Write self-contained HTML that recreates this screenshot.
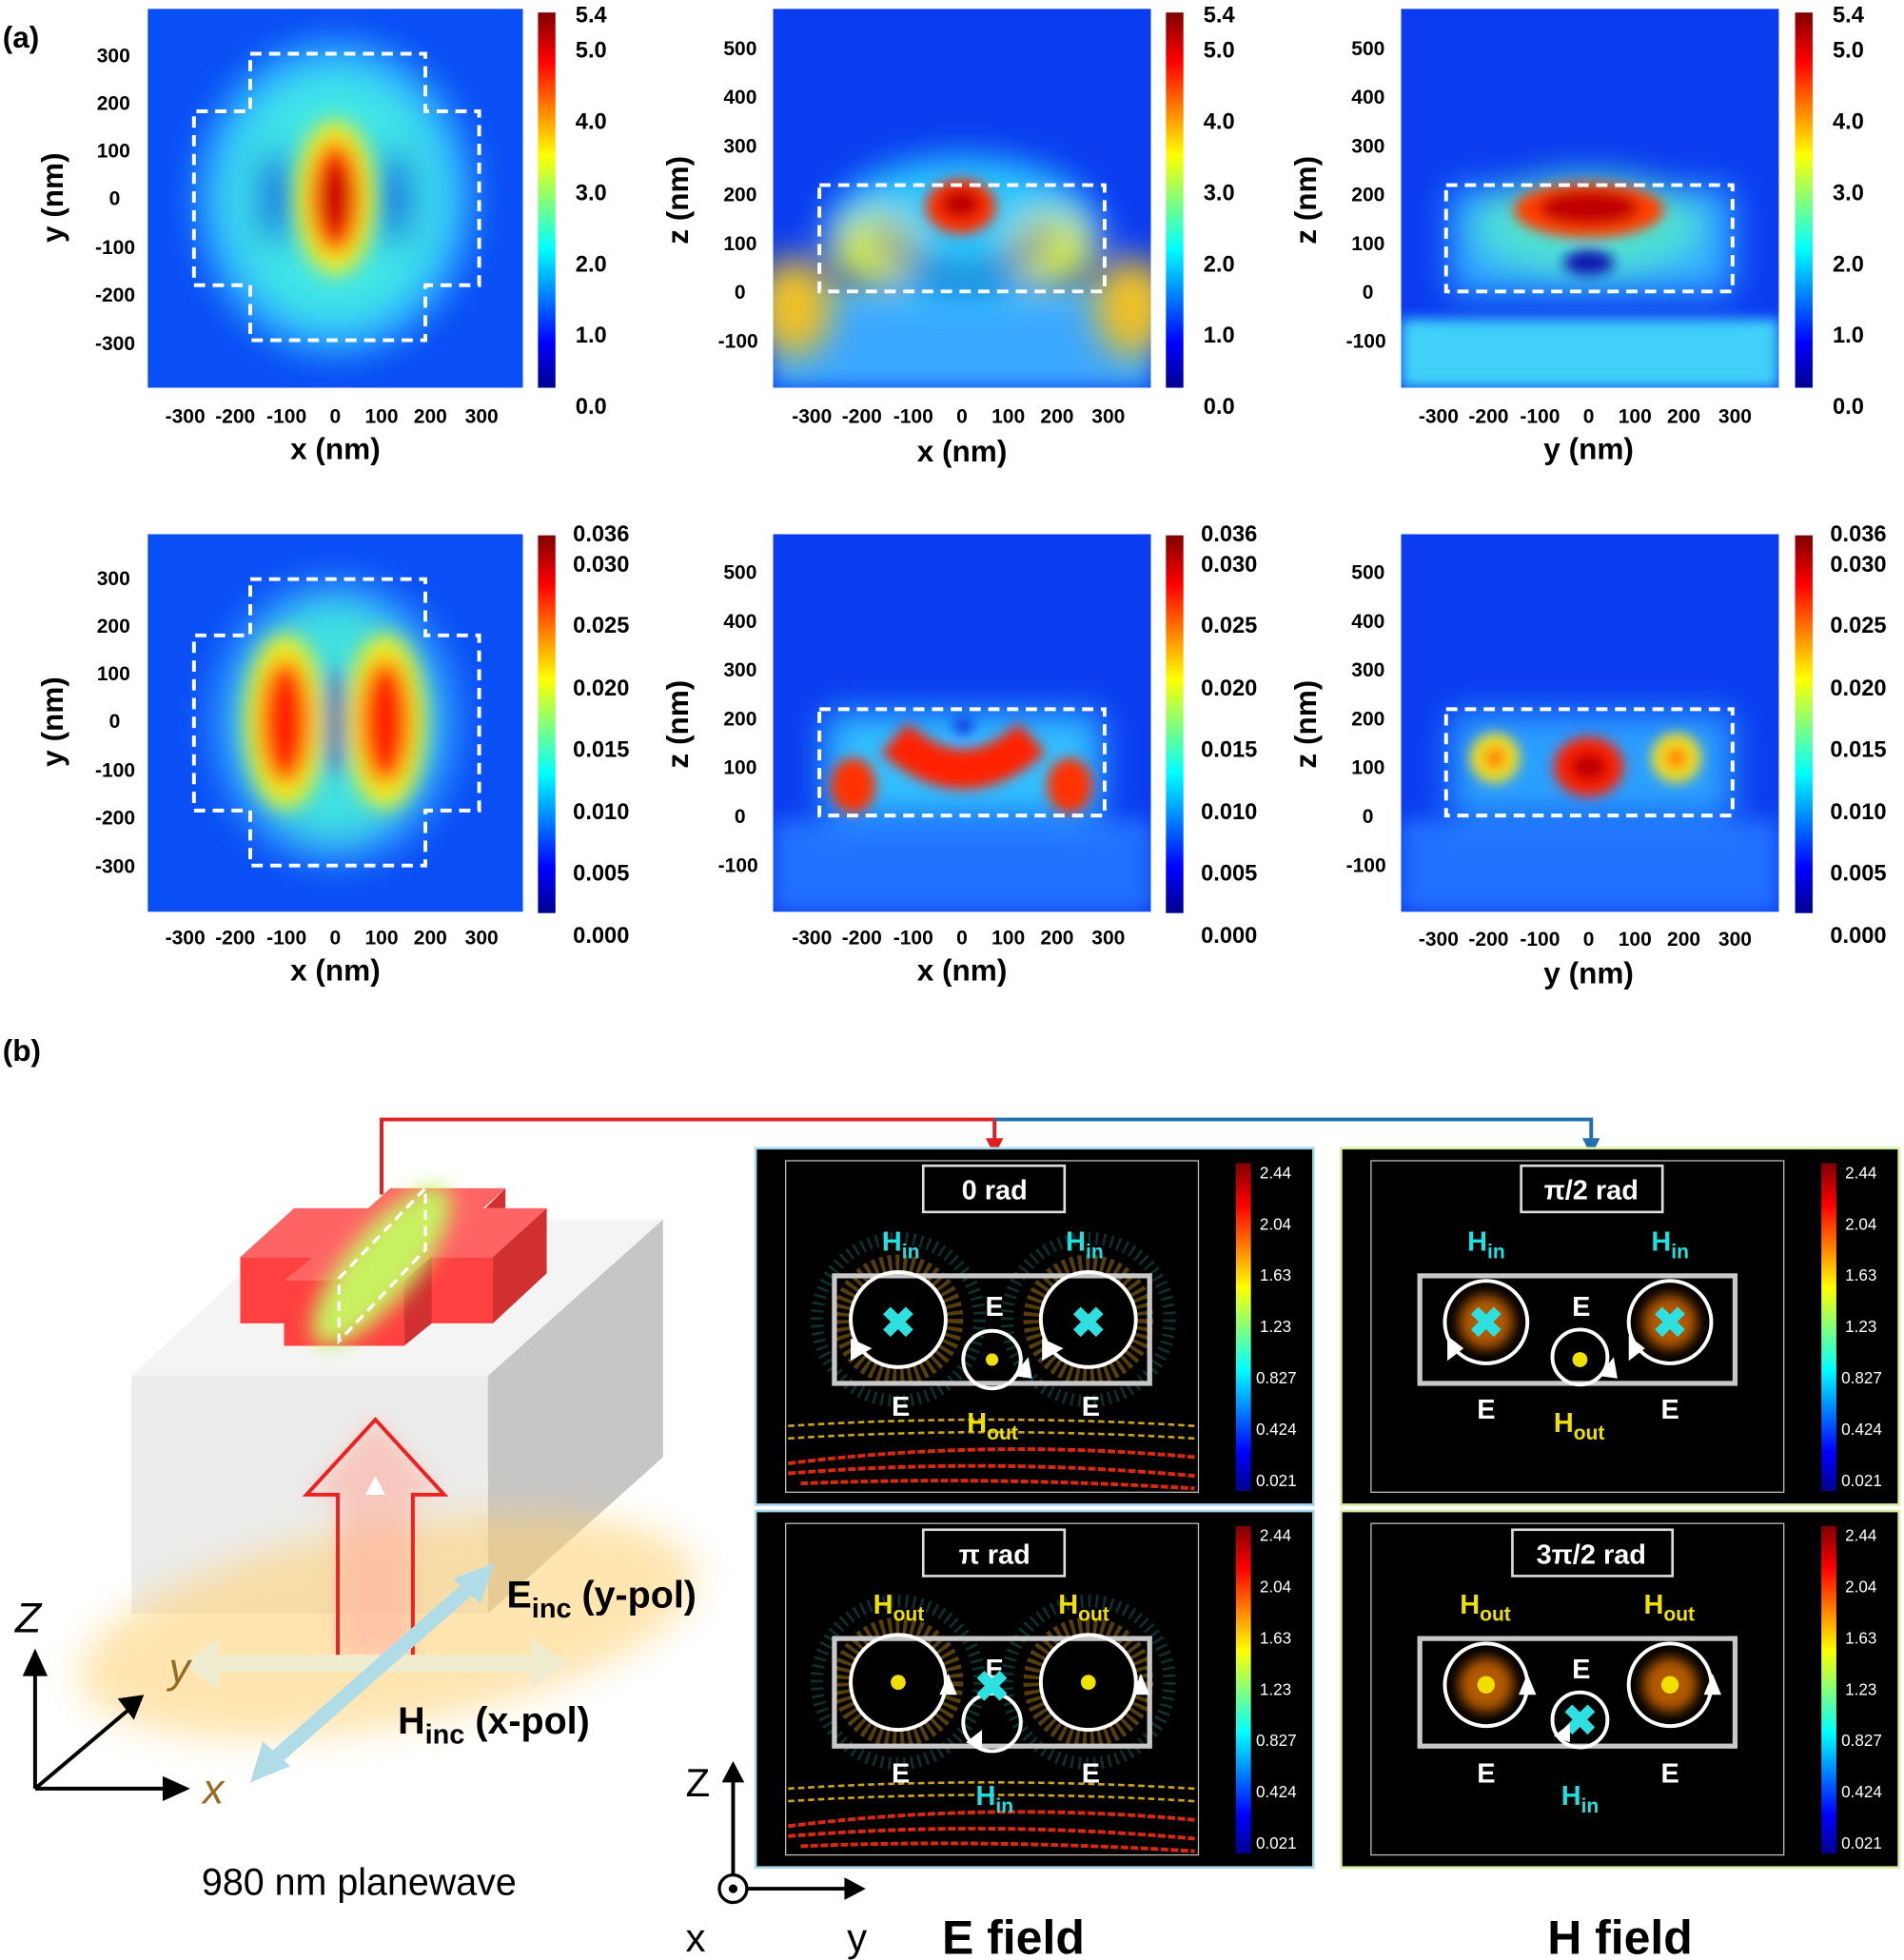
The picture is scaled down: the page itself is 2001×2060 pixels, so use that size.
<!DOCTYPE html>
<html><head><meta charset="utf-8"><style>
html,body{margin:0;padding:0;background:#fff}
svg{display:block;font-family:"Liberation Sans",sans-serif}
</style></head><body>
<svg width="2001" height="2060" viewBox="0 0 1522 1567" xmlns="http://www.w3.org/2000/svg" font-weight="bold">
<defs>
<linearGradient id="jet" x1="0" y1="1" x2="0" y2="0">
<stop offset="0" stop-color="#00008f"/><stop offset="0.12" stop-color="#0000ff"/><stop offset="0.37" stop-color="#00ffff"/><stop offset="0.62" stop-color="#ffff00"/><stop offset="0.87" stop-color="#ff0000"/><stop offset="1" stop-color="#800000"/>
</linearGradient>
<filter id="b8" x="-50%" y="-50%" width="200%" height="200%"><feGaussianBlur stdDeviation="8"/></filter>
<filter id="b14" x="-50%" y="-50%" width="200%" height="200%"><feGaussianBlur stdDeviation="14"/></filter>
<filter id="b5" x="-50%" y="-50%" width="200%" height="200%"><feGaussianBlur stdDeviation="5"/></filter>
<clipPath id="c1"><rect x="118" y="7" width="300" height="303"/></clipPath>
<clipPath id="c2"><rect x="618" y="7" width="302" height="303"/></clipPath>
<clipPath id="c3"><rect x="1120" y="7" width="302" height="303"/></clipPath>
<clipPath id="c4"><rect x="118" y="427" width="300" height="302"/></clipPath>
<clipPath id="c5"><rect x="618" y="427" width="302" height="302"/></clipPath>
<clipPath id="c6"><rect x="1120" y="427" width="302" height="302"/></clipPath>
</defs>
<rect width="1522" height="1567" fill="#fff"/>
<text x="2" y="38" font-size="24">(a)</text>
<text x="2" y="848" font-size="24">(b)</text>

<!-- Plot 1 -->
<g clip-path="url(#c1)">
<rect x="118" y="7" width="300" height="303" fill="#0a4ef5"/>
<g filter="url(#b14)">
<ellipse cx="268" cy="158" rx="110" ry="125" fill="#2fb4ff"/>
<ellipse cx="268" cy="158" rx="85" ry="100" fill="#3fe6e6"/>
<ellipse cx="220" cy="158" rx="14" ry="40" fill="#1050e0"/>
<ellipse cx="316" cy="158" rx="14" ry="40" fill="#1050e0"/>
</g>
<g filter="url(#b8)">
<ellipse cx="268" cy="158" rx="32" ry="62" fill="#f0f020"/>
<ellipse cx="268" cy="158" rx="20" ry="45" fill="#ff2000"/>
<ellipse cx="268" cy="158" rx="10" ry="28" fill="#c00000"/>
</g>
</g>
<path d="M200,43H340V89H383V228H340V272H200V228H155V89H200Z" fill="none" stroke="#fff" stroke-width="3" stroke-dasharray="9,6"/>
<!-- Plot 2 -->
<g clip-path="url(#c2)">
<rect x="618" y="7" width="302" height="303" fill="#0a3cf0"/>
<rect x="618" y="230" width="302" height="80" fill="#3aa8ff" filter="url(#b8)"/>
<g filter="url(#b14)">
<ellipse cx="770" cy="185" rx="110" ry="60" fill="#2ac8ff"/>
<ellipse cx="700" cy="200" rx="35" ry="30" fill="#d8f040"/>
<ellipse cx="840" cy="200" rx="35" ry="30" fill="#d8f040"/>
<ellipse cx="635" cy="245" rx="30" ry="40" fill="#f0c020"/>
<ellipse cx="905" cy="245" rx="30" ry="40" fill="#f0c020"/>
<path d="M700,185 Q770,260 840,185" stroke="#0818b0" stroke-width="14" fill="none"/>
</g>
<g filter="url(#b5)">
<ellipse cx="768" cy="165" rx="28" ry="22" fill="#ff3000"/>
<ellipse cx="768" cy="163" rx="16" ry="12" fill="#c00000"/>
</g>
</g>
<rect x="655" y="148" width="228" height="85" fill="none" stroke="#fff" stroke-width="3" stroke-dasharray="9,6"/>
<!-- Plot 3 -->
<g clip-path="url(#c3)">
<rect x="1120" y="7" width="302" height="303" fill="#0a3cf0"/>
<rect x="1120" y="255" width="302" height="55" fill="#40d0f8" filter="url(#b5)"/>
<g filter="url(#b14)">
<rect x="1160" y="150" width="225" height="85" fill="#30b0ff"/>
<ellipse cx="1270" cy="180" rx="90" ry="40" fill="#50e0d0"/>
</g>
<g filter="url(#b5)">
<ellipse cx="1270" cy="168" rx="60" ry="22" fill="#ff4000"/>
<ellipse cx="1270" cy="166" rx="40" ry="14" fill="#c00000"/>
<ellipse cx="1270" cy="210" rx="20" ry="10" fill="#0818b0"/>
</g>
</g>
<rect x="1156" y="148" width="229" height="85" fill="none" stroke="#fff" stroke-width="3" stroke-dasharray="9,6"/>
<!-- Plot 4 -->
<g clip-path="url(#c4)">
<rect x="118" y="427" width="300" height="302" fill="#0a4ef5"/>
<g filter="url(#b14)">
<ellipse cx="268" cy="577" rx="100" ry="115" fill="#2a90ff"/>
<ellipse cx="268" cy="577" rx="75" ry="95" fill="#40e0e0"/>
</g>
<g filter="url(#b8)">
<ellipse cx="228" cy="577" rx="32" ry="70" fill="#f0f020"/>
<ellipse cx="308" cy="577" rx="32" ry="70" fill="#f0f020"/>
<ellipse cx="228" cy="577" rx="20" ry="50" fill="#ff2000"/>
<ellipse cx="308" cy="577" rx="20" ry="50" fill="#ff2000"/>
<ellipse cx="268" cy="577" rx="7" ry="45" fill="#0820c0"/>
</g>
</g>
<path d="M200,463H340V508H383V648H340V692H200V648H155V508H200Z" fill="none" stroke="#fff" stroke-width="3" stroke-dasharray="9,6"/>
<!-- Plot 5 -->
<g clip-path="url(#c5)">
<rect x="618" y="427" width="302" height="302" fill="#0a3cf0"/>
<rect x="618" y="655" width="302" height="74" fill="#2070ff" filter="url(#b8)"/>
<g filter="url(#b14)">
<rect x="660" y="570" width="220" height="85" fill="#30c0ff"/>
</g>
<g filter="url(#b5)">
<path d="M715,590 Q770,640 825,590" stroke="#ff2000" stroke-width="32" fill="none"/>
<ellipse cx="682" cy="628" rx="18" ry="22" fill="#ff3000"/>
<ellipse cx="855" cy="628" rx="18" ry="22" fill="#ff3000"/>
<ellipse cx="770" cy="580" rx="8" ry="8" fill="#1040e0"/>
</g>
</g>
<rect x="655" y="567" width="228" height="85" fill="none" stroke="#fff" stroke-width="3" stroke-dasharray="9,6"/>
<!-- Plot 6 -->
<g clip-path="url(#c6)">
<rect x="1120" y="427" width="302" height="302" fill="#0a3cf0"/>
<rect x="1120" y="655" width="302" height="74" fill="#2070ff" filter="url(#b8)"/>
<g filter="url(#b14)"><rect x="1160" y="570" width="225" height="85" fill="#2aa0ff"/></g>
<g filter="url(#b5)">
<circle cx="1195" cy="606" r="20" fill="#f0e020"/>
<circle cx="1340" cy="606" r="20" fill="#f0e020"/>
<circle cx="1195" cy="606" r="9" fill="#ff8000"/>
<circle cx="1340" cy="606" r="9" fill="#ff8000"/>
<ellipse cx="1270" cy="613" rx="28" ry="24" fill="#ff2000"/>
<ellipse cx="1270" cy="613" rx="15" ry="12" fill="#c00000"/>
</g>
</g>
<rect x="1156" y="567" width="229" height="85" fill="none" stroke="#fff" stroke-width="3" stroke-dasharray="9,6"/>

<!-- colorbars -->
<g font-size="18">
<rect x="430" y="10" width="14" height="300" fill="url(#jet)"/>
<rect x="932" y="10" width="14" height="300" fill="url(#jet)"/>
<rect x="1435" y="10" width="14" height="300" fill="url(#jet)"/>
<g id="cb1"><text x="460" y="18">5.4</text><text x="460" y="46">5.0</text><text x="460" y="103">4.0</text><text x="460" y="160">3.0</text><text x="460" y="217">2.0</text><text x="460" y="274">1.0</text><text x="460" y="331">0.0</text></g>
<use href="#cb1" x="502"/><use href="#cb1" x="1005"/>
<rect x="430" y="428" width="14" height="302" fill="url(#jet)"/>
<rect x="932" y="428" width="14" height="302" fill="url(#jet)"/>
<rect x="1435" y="428" width="14" height="302" fill="url(#jet)"/>
<g id="cb2"><text x="458" y="433">0.036</text><text x="458" y="457">0.030</text><text x="458" y="506">0.025</text><text x="458" y="556">0.020</text><text x="458" y="605">0.015</text><text x="458" y="655">0.010</text><text x="458" y="704">0.005</text><text x="458" y="754">0.000</text></g>
<use href="#cb2" x="502"/><use href="#cb2" x="1005"/>
</g>

<!-- axes tick labels -->
<g font-size="16" text-anchor="end">
<g id="yt1"><text x="104" y="50">300</text><text x="104" y="88">200</text><text x="104" y="126">100</text><text x="96" y="164">0</text><text x="108" y="203">-100</text><text x="108" y="241">-200</text><text x="108" y="280">-300</text></g>
<use href="#yt1" y="418"/>
<g id="yt2"><text x="605" y="44">500</text><text x="605" y="83">400</text><text x="605" y="122">300</text><text x="605" y="161">200</text><text x="605" y="200">100</text><text x="596" y="239">0</text><text x="606" y="278">-100</text></g>
<use href="#yt2" x="502"/><use href="#yt2" y="419"/><use href="#yt2" x="502" y="419"/>
</g>
<g font-size="16" text-anchor="middle">
<g id="xt"><text x="148" y="338">-300</text><text x="188" y="338">-200</text><text x="229" y="338">-100</text><text x="268" y="338">0</text><text x="305" y="338">100</text><text x="344" y="338">200</text><text x="385" y="338">300</text></g>
<use href="#xt" x="501"/><use href="#xt" x="1002"/>
<use href="#xt" y="417"/><use href="#xt" x="501" y="417"/><use href="#xt" x="1002" y="418"/>
</g>
<g font-size="24" text-anchor="middle">
<text x="268" y="367">x (nm)</text><text x="769" y="369">x (nm)</text><text x="1270" y="367">y (nm)</text>
<text x="268" y="784">x (nm)</text><text x="769" y="784">x (nm)</text><text x="1270" y="786">y (nm)</text>
<text transform="translate(50,158) rotate(-90)">y (nm)</text>
<text transform="translate(550,160) rotate(-90)">z (nm)</text>
<text transform="translate(1052,160) rotate(-90)">z (nm)</text>
<text transform="translate(50,577) rotate(-90)">y (nm)</text>
<text transform="translate(550,579) rotate(-90)">z (nm)</text>
<text transform="translate(1052,579) rotate(-90)">z (nm)</text>
</g>

<!-- (b) connectors -->
<path d="M305,955V895H795V912" fill="none" stroke="#e02020" stroke-width="3"/>
<path d="M788,910h14l-7,14z" fill="#e02020"/>
<path d="M795,895H1272V912" fill="none" stroke="#2070b0" stroke-width="3"/>
<path d="M1265,910h14l-7,14z" fill="#2070b0"/>

<!-- 3D illustration -->
<g>
<polygon points="105,1100 390,1100 390,1290 105,1290" fill="#ececec"/>
<polygon points="105,1100 240,975 530,975 390,1100" fill="#f4f4f4"/>
<polygon points="390,1100 530,975 530,1165 390,1290" fill="#c6c6c6"/>
<!-- cross -->
<polygon points="312,950 404,950 361,989 269,989" fill="#ff6464"/>
<polygon points="404,950 404,966 388,966" fill="#d03030"/>
<polygon points="192,1005 394,1005 437,966 235,966" fill="#ff6464"/>
<rect x="192" y="1005" width="202" height="53" fill="#ff4040"/>
<polygon points="394,1005 437,966 437,1018 394,1058" fill="#d03030"/>
<polygon points="227,1024 323,1024 345,1005 250,1005" fill="#ff6464"/>
<rect x="227" y="1024" width="96" height="52" fill="#ff4040"/>
<polygon points="323,1024 345,1005 345,1058 323,1076" fill="#d03030"/>
<ellipse cx="305" cy="1012" rx="28" ry="80" fill="#c8f060" filter="url(#b8)" transform="rotate(40 305 1012)"/>
<polygon points="271,1022 340,950 340,999 271,1072" fill="none" stroke="#fff" stroke-width="2.5" stroke-dasharray="8,5"/>
<ellipse cx="310" cy="1300" rx="250" ry="80" fill="#ffd070" opacity="0.55" filter="url(#b14)" transform="rotate(-10 310 1300)"/>
<polygon points="270,1325 270,1195 245,1195 300,1135 355,1195 330,1195 330,1325" fill="#ffb0a0" opacity="0.6" filter="url(#b8)"/>
<polygon points="270,1325 270,1195 245,1195 300,1135 355,1195 330,1195 330,1325" fill="none" stroke="#f02020" stroke-width="3"/>
<polygon points="292,1195 300,1180 308,1195" fill="#fff"/>
<line x1="160" y1="1330" x2="440" y2="1330" stroke="#f0ecd0" stroke-width="14"/>
<polygon points="145,1330 175,1310 175,1350" fill="#f0ecd0"/><polygon points="455,1330 425,1310 425,1350" fill="#f0ecd0"/>
<line x1="215" y1="1410" x2="380" y2="1265" stroke="#b0dce8" stroke-width="12"/>
<polygon points="200,1425 210,1392 232,1412" fill="#b0dce8"/><polygon points="395,1250 362,1262 384,1282" fill="#b0dce8"/>
<text x="405" y="1285" font-size="30">E<tspan font-size="22" dy="8">inc</tspan><tspan dy="-8"> (y-pol)</tspan></text>
<text x="318" y="1386" font-size="30">H<tspan font-size="22" dy="8">inc</tspan><tspan dy="-8"> (x-pol)</tspan></text>
<path d="M28,1430V1330M28,1430H140M28,1430L105,1365" stroke="#000" stroke-width="3" fill="none"/>
<polygon points="18,1340 28,1318 38,1340"/><polygon points="130,1420 152,1430 130,1440"/><polygon points="94,1358 115,1355 107,1375"/>
<text x="12" y="1305" font-size="34" font-weight="normal" font-style="italic">Z</text>
<text x="135" y="1345" font-size="34" font-weight="normal" font-style="italic" fill="#9a6a20">y</text>
<text x="162" y="1442" font-size="34" font-weight="normal" font-style="italic" fill="#9a6a20">x</text>
<text x="287" y="1515" font-size="30" font-weight="normal" text-anchor="middle">980 nm planewave</text>
</g>

<!-- vector panels -->
<g id="ep">
<rect x="604" y="918" width="446" height="285" fill="#000" stroke="#a8d8f0" stroke-width="2"/>
<rect x="628" y="928" width="330" height="265" fill="none" stroke="#bbb" stroke-width="1"/>
<g opacity="0.85">
<path d="M630,1170 Q790,1150 955,1165 M630,1178 Q790,1165 955,1180 M640,1186 Q790,1180 955,1190" stroke="#ff3010" fill="none" stroke-width="3" stroke-dasharray="6,2"/>
<path d="M630,1150 Q790,1140 955,1150 M630,1140 Q790,1130 955,1140" stroke="#f0c020" fill="none" stroke-width="2" stroke-dasharray="5,3"/>
<circle cx="718" cy="1055" r="45" fill="none" stroke="#e0a020" stroke-width="14" opacity="0.45" stroke-dasharray="3,3"/>
<circle cx="870" cy="1055" r="45" fill="none" stroke="#e0a020" stroke-width="14" opacity="0.45" stroke-dasharray="3,3"/>
<circle cx="718" cy="1055" r="65" fill="none" stroke="#30c0c0" stroke-width="10" opacity="0.3" stroke-dasharray="2,4"/>
<circle cx="870" cy="1055" r="65" fill="none" stroke="#30c0c0" stroke-width="10" opacity="0.3" stroke-dasharray="2,4"/>
</g>
<rect x="667" y="1020" width="252" height="86" fill="none" stroke="#c8c8c8" stroke-width="4"/>
<rect x="988" y="930" width="12" height="262" fill="url(#jet)"/>
<g font-size="13" font-weight="normal" fill="#fff"><text x="1007" y="942">2.44</text><text x="1007" y="983">2.04</text><text x="1007" y="1024">1.63</text><text x="1007" y="1065">1.23</text><text x="1004" y="1106">0.827</text><text x="1004" y="1147">0.424</text><text x="1004" y="1188">0.021</text></g>
<circle cx="718" cy="1055" r="38" fill="none" stroke="#fff" stroke-width="3"/>
<circle cx="870" cy="1055" r="38" fill="none" stroke="#fff" stroke-width="3"/>
<circle cx="793" cy="1087" r="23" fill="none" stroke="#fff" stroke-width="3"/>
</g>
<use href="#ep" y="290"/>
<g id="hp" transform="translate(468,0)">
<rect x="604" y="918" width="446" height="285" fill="#000" stroke="#d8f0a0" stroke-width="2"/>
<rect x="628" y="928" width="330" height="265" fill="none" stroke="#bbb" stroke-width="1"/>
<rect x="667" y="1020" width="252" height="86" fill="none" stroke="#c8c8c8" stroke-width="4"/>
<rect x="988" y="930" width="12" height="262" fill="url(#jet)"/>
<g font-size="13" font-weight="normal" fill="#fff"><text x="1007" y="942">2.44</text><text x="1007" y="983">2.04</text><text x="1007" y="1024">1.63</text><text x="1007" y="1065">1.23</text><text x="1004" y="1106">0.827</text><text x="1004" y="1147">0.424</text><text x="1004" y="1188">0.021</text></g>
</g>
<use href="#hp" y="290"/>
<!-- H panel content -->
<g id="hc">
<circle cx="1188" cy="1057" r="22" fill="#ff8000" opacity="0.7" filter="url(#b5)"/><circle cx="1335" cy="1057" r="22" fill="#ff8000" opacity="0.7" filter="url(#b5)"/>
<circle cx="1188" cy="1057" r="33" fill="none" stroke="#fff" stroke-width="3"/>
<circle cx="1335" cy="1057" r="33" fill="none" stroke="#fff" stroke-width="3"/>
<circle cx="1263" cy="1085" r="22" fill="none" stroke="#fff" stroke-width="3"/>
</g>
<use href="#hc" y="290"/>

<!-- panel labels -->
<g font-size="22" text-anchor="middle">
<rect x="738" y="932" width="113" height="37" fill="#000" stroke="#ddd" stroke-width="2"/><text x="795" y="959" fill="#fff">0 rad</text>
<rect x="738" y="1223" width="113" height="37" fill="#000" stroke="#ddd" stroke-width="2"/><text x="795" y="1250" fill="#fff">π rad</text>
<rect x="1216" y="932" width="113" height="37" fill="#000" stroke="#ddd" stroke-width="2"/><text x="1272" y="959" fill="#fff">π/2 rad</text>
<rect x="1209" y="1223" width="128" height="37" fill="#000" stroke="#ddd" stroke-width="2"/><text x="1272" y="1250" fill="#fff">3π/2 rad</text>
</g>
<g font-size="22">
<text x="705" y="1000" fill="#20e0e0">H<tspan font-size="16" dy="6">in</tspan></text><text x="852" y="1000" fill="#20e0e0">H<tspan font-size="16" dy="6">in</tspan></text>
<text x="773" y="1145" fill="#f0e000">H<tspan font-size="16" dy="6">out</tspan></text>
<text x="1173" y="1000" fill="#20e0e0">H<tspan font-size="16" dy="6">in</tspan></text><text x="1320" y="1000" fill="#20e0e0">H<tspan font-size="16" dy="6">in</tspan></text>
<text x="1242" y="1145" fill="#f0e000">H<tspan font-size="16" dy="6">out</tspan></text>
<text x="698" y="1290" fill="#f0e000">H<tspan font-size="16" dy="6">out</tspan></text><text x="846" y="1290" fill="#f0e000">H<tspan font-size="16" dy="6">out</tspan></text>
<text x="780" y="1443" fill="#20e0e0">H<tspan font-size="16" dy="6">in</tspan></text>
<text x="1167" y="1290" fill="#f0e000">H<tspan font-size="16" dy="6">out</tspan></text><text x="1314" y="1290" fill="#f0e000">H<tspan font-size="16" dy="6">out</tspan></text>
<text x="1248" y="1443" fill="#20e0e0">H<tspan font-size="16" dy="6">in</tspan></text>
</g>
<g font-size="22" fill="#fff" text-anchor="middle">
<text x="795" y="1052">E</text><text x="720" y="1132">E</text><text x="872" y="1132">E</text>
<text x="795" y="1342">E</text><text x="720" y="1425">E</text><text x="872" y="1425">E</text>
<text x="1264" y="1052">E</text><text x="1188" y="1134">E</text><text x="1335" y="1134">E</text>
<text x="1264" y="1342">E</text><text x="1188" y="1425">E</text><text x="1335" y="1425">E</text>
</g>
<g font-size="34" fill="#2ee0e0" text-anchor="middle">
<text x="718" y="1069">✖</text><text x="870" y="1069">✖</text><text x="793" y="1360">✖</text>
<text x="1188" y="1069">✖</text><text x="1335" y="1069">✖</text><text x="1263" y="1387">✖</text>
</g>
<g fill="#f0e000">
<circle cx="793" cy="1087" r="5"/><circle cx="718" cy="1345" r="6"/><circle cx="870" cy="1345" r="6"/>
<circle cx="1263" cy="1087" r="6"/><circle cx="1188" cy="1347" r="7"/><circle cx="1335" cy="1347" r="7"/>
</g>
<g fill="#fff">
<polygon points="680,1070 697,1078 680,1088"/><polygon points="833,1070 850,1078 833,1088"/><polygon points="810,1100 822,1085 825,1102"/>
<polygon points="1157,1068 1170,1078 1157,1088"/><polygon points="1302,1068 1315,1078 1302,1088"/><polygon points="1278,1100 1290,1085 1293,1102"/>
<polygon points="751,1355 758,1338 765,1355"/><polygon points="905,1355 912,1338 919,1355"/><polygon points="785,1383 772,1393 785,1398"/>
<polygon points="1214,1355 1221,1338 1228,1355"/><polygon points="1362,1355 1369,1338 1376,1355"/><polygon points="1255,1378 1242,1388 1255,1393"/>
</g>

<!-- bottom axes -->
<path d="M586,1510V1420M586,1510H680" stroke="#000" stroke-width="3" fill="none"/>
<polygon points="577,1425 586,1408 595,1425"/><polygon points="675,1501 692,1510 675,1519"/>
<circle cx="586" cy="1510" r="11" fill="#fff" stroke="#000" stroke-width="2.5"/><circle cx="586" cy="1510" r="3.5"/>
<g font-size="32" font-weight="normal"><text x="548" y="1436">Z</text><text x="548" y="1560">x</text><text x="677" y="1560">y</text></g>
<text x="810" y="1562" font-size="38" text-anchor="middle">E field</text>
<text x="1295" y="1562" font-size="38" text-anchor="middle">H field</text>
</svg>
</body></html>
